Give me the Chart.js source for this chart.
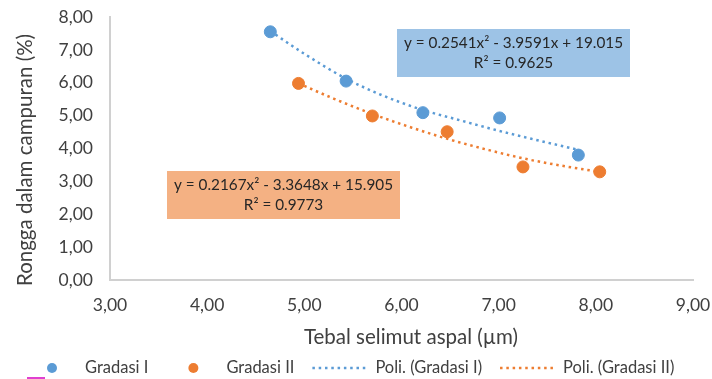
<!DOCTYPE html>
<html>
<head>
<meta charset="utf-8">
<script src="https://cdn.jsdelivr.net/npm/chart.js@4.4.1/dist/chart.umd.min.js"></script>
<style>
  html, body { margin: 0; padding: 0; background: #fff; }
  #wrap { position: relative; width: 712px; height: 379px; }
</style>
</head>
<body>
<div id="wrap"><canvas id="chart" width="712" height="379"></canvas></div>
<script>
const FONT = "Lato, 'Open Sans', sans-serif";
const BLUE = "#5B9BD5";
const ORANGE = "#ED7D31";
const TEXT = "#404040";

/* measured points */
const gradasi1X = [4.65, 5.43, 6.22, 7.01, 7.82];
const gradasi1Y = [7.55, 6.05, 5.09, 4.93, 3.80];
const gradasi2X = [4.94, 5.70, 6.47, 7.25, 8.04];
const gradasi2Y = [5.98, 4.99, 4.51, 3.44, 3.29];

/* dotted trend curves */
const poli1X = [4.65, 5.00, 5.42, 5.80, 6.20, 6.60, 7.00, 7.40, 7.82];
const poli1Y = [7.57, 6.88, 6.14, 5.62, 5.19, 4.86, 4.54, 4.25, 3.96];
const poli2X = [4.94, 5.30, 5.71, 6.10, 6.50, 6.90, 7.30, 7.70, 8.04];
const poli2Y = [5.98, 5.52, 5.04, 4.64, 4.27, 3.95, 3.67, 3.45, 3.29];

const xTicks = ["3,00", "4,00", "5,00", "6,00", "7,00", "8,00", "9,00"];
const yTicks = ["0,00", "1,00", "2,00", "3,00", "4,00", "5,00", "6,00", "7,00", "8,00"];

const seriesNames = ["Gradasi I", "Gradasi II", "Poli. (Gradasi I)", "Poli. (Gradasi II)"];
const eq1 = ["y = 0.2541x\u00b2 - 3.9591x + 19.015", "R\u00b2 = 0.9625"];
const eq2 = ["y = 0.2167x\u00b2 - 3.3648x + 15.905", "R\u00b2 = 0.9773"];
const xTitle = "Tebal selimut aspal (\u00b5m)";
const yTitle = "Rongga dalam campuran (%)";

const pts = (xs, ys) => xs.map((x, i) => ({ x, y: ys[i] }));

function eqBox(ctx, x, y, w, h, fill, lines) {
  ctx.fillStyle = fill;
  ctx.fillRect(x, y, w, h);
  ctx.fillStyle = "#262626";
  ctx.font = "15.3px " + FONT;
  ctx.textAlign = "center";
  ctx.textBaseline = "middle";
  ctx.fillText(lines[0], x + w / 2, y + 14);
  ctx.fillText(lines[1], x + w / 2, y + 34);
}

const decor = {
  id: "decor",
  afterDraw(chart) {
    const ctx = chart.ctx;
    ctx.save();
    eqBox(ctx, 397, 29, 233, 48, "#9DC3E6", eq1);
    eqBox(ctx, 167, 171, 233, 48, "#F4B183", eq2);

    // axis titles
    ctx.fillStyle = TEXT;
    ctx.font = "20.5px " + FONT;
    ctx.textAlign = "center";
    ctx.textBaseline = "middle";
    ctx.fillText(xTitle, 411, 337);
    ctx.save();
    ctx.translate(25, 160);
    ctx.rotate(-Math.PI / 2);
    ctx.fillText(yTitle, 0, 0);
    ctx.restore();

    // legend
    const ly = 368;
    let lx = 25;
    ctx.font = "16.5px " + FONT;
    ctx.textAlign = "left";
    chart.data.datasets.forEach((ds) => {
      if (ds.showLine) {
        ctx.strokeStyle = ds.borderColor;
        ctx.lineWidth = ds.borderWidth;
        ctx.setLineDash(ds.borderDash);
        ctx.beginPath();
        ctx.moveTo(lx, ly);
        ctx.lineTo(lx + 55, ly);
        ctx.stroke();
        ctx.setLineDash([]);
        lx += 63;
      } else {
        ctx.fillStyle = ds.backgroundColor;
        ctx.beginPath();
        ctx.arc(lx + 27, ly, 5, 0, Math.PI * 2);
        ctx.fill();
        lx += 60;
      }
      ctx.fillStyle = TEXT;
      ctx.fillText(ds.label, lx, ly);
      lx += ctx.measureText(ds.label).width + 18;
    });

    // small magenta mark at the bottom edge
    ctx.fillStyle = "#E040D0";
    ctx.fillRect(27, 377, 18, 2);
    ctx.restore();
  }
};

new Chart(document.getElementById("chart"), {
  type: "scatter",
  data: {
    datasets: [
      { label: seriesNames[0], data: pts(gradasi1X, gradasi1Y), backgroundColor: BLUE, borderColor: BLUE,
        pointRadius: 6, pointHoverRadius: 6 },
      { label: seriesNames[1], data: pts(gradasi2X, gradasi2Y), backgroundColor: ORANGE, borderColor: ORANGE,
        pointRadius: 6, pointHoverRadius: 6 },
      { label: seriesNames[2], data: pts(poli1X, poli1Y), showLine: true, borderColor: BLUE, backgroundColor: BLUE,
        borderWidth: 2.5, borderDash: [2.5, 3.8], pointRadius: 0, cubicInterpolationMode: "monotone" },
      { label: seriesNames[3], data: pts(poli2X, poli2Y), showLine: true, borderColor: ORANGE, backgroundColor: ORANGE,
        borderWidth: 2.5, borderDash: [2.5, 3.8], pointRadius: 0, cubicInterpolationMode: "monotone" }
    ]
  },
  options: {
    responsive: false,
    animation: false,
    layout: { padding: { top: 17, right: 19, left: 0, bottom: 0 } },
    plugins: { legend: { display: false }, tooltip: { enabled: false } },
    scales: {
      x: {
        type: "linear", min: 3, max: 9,
        grid: { display: false, drawTicks: false },
        border: { display: true, color: "#D0D0D0", width: 2 },
        ticks: { stepSize: 1, padding: 15, color: TEXT, font: { family: FONT, size: 17.5 },
                 callback: (v) => xTicks[Math.round(v) - 3] },
        afterFit: (s) => { s.height = 99; s.paddingLeft = 0; s.paddingRight = 0; }
      },
      y: {
        type: "linear", min: 0, max: 8,
        grid: { display: false, drawTicks: false },
        border: { display: true, color: "#D0D0D0", width: 2 },
        ticks: { stepSize: 1, padding: 17, color: TEXT, font: { family: FONT, size: 17.5 },
                 callback: (v) => yTicks[Math.round(v)] },
        afterFit: (s) => { s.width = 110; s.paddingTop = 0; s.paddingBottom = 0; }
      }
    }
  },
  plugins: [decor]
});
</script>
</body>
</html>
